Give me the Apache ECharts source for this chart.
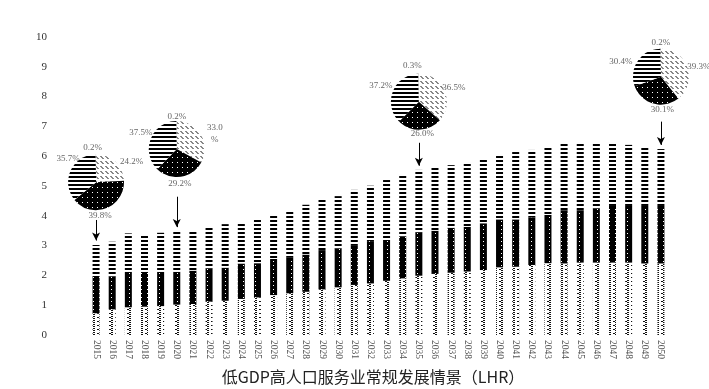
<!DOCTYPE html>
<html><head><meta charset="utf-8">
<script src="https://cdn.jsdelivr.net/npm/echarts@6/dist/echarts.min.js"></script>
<style>html,body{margin:0;padding:0;background:#fff}#c{width:709px;height:389px}</style>
</head><body><div id="c"></div>
<script>
// ---- data ----
const years = ['2015','2016','2017','2018','2019','2020','2021','2022','2023','2024','2025','2026','2027','2028','2029','2030','2031','2032','2033','2034','2035','2036','2037','2038','2039','2040','2041','2042','2043','2044','2045','2046','2047','2048','2049','2050'];
const yTicks = [0,1,2,3,4,5,6,7,8,9,10];
// bottom segment (zigzag hatch)
const segHatch = [0.73,0.86,0.93,0.95,0.97,1.02,1.04,1.12,1.15,1.21,1.26,1.34,1.40,1.45,1.53,1.60,1.68,1.73,1.82,1.90,1.99,2.05,2.09,2.13,2.18,2.27,2.29,2.35,2.41,2.40,2.43,2.43,2.43,2.43,2.40,2.40];
// middle segment (black with white dots)
const segDots = [1.25,1.10,1.19,1.17,1.15,1.10,1.12,1.12,1.11,1.19,1.15,1.21,1.19,1.25,1.32,1.30,1.31,1.42,1.37,1.40,1.46,1.45,1.51,1.50,1.57,1.61,1.59,1.59,1.62,1.79,1.76,1.82,1.90,1.90,1.93,1.93];
// top segment (horizontal stripes)
const segStripes = [1.04,1.17,1.29,1.27,1.31,1.35,1.36,1.36,1.46,1.38,1.47,1.50,1.60,1.67,1.68,1.76,1.88,1.86,2.01,2.04,2.09,2.13,2.10,2.16,2.18,2.19,2.26,2.27,2.27,2.22,2.28,2.18,2.08,2.05,1.99,1.91];
// pie shares (%): [hatch, dots, stripes, other]
const pie2015 = [24.2, 39.8, 35.7, 0.2];
const pie2020 = [33.0, 29.2, 37.5, 0.2];
const pie2035 = [36.5, 26.0, 37.2, 0.3];
const pie2050 = [39.3, 30.1, 30.4, 0.2];
const segNames = ['板块一','板块二','板块三','其他'];
const titleText = '低GDP高人口服务业常规发展情景（LHR）';

// ---- patterns ----
function pat(w, h, draw) {
  const c = document.createElement('canvas');
  c.width = w; c.height = h;
  const g = c.getContext('2d');
  g.fillStyle = '#fff'; g.fillRect(0, 0, w, h);
  draw(g);
  return { image: c, repeat: 'repeat' };
}
const pStripes = pat(4, 4, g => { g.fillStyle = '#000'; g.fillRect(0, 0, 4, 2); });
const pDotsBar = pat(6, 4, g => { g.fillStyle = '#000'; g.fillRect(0, 0, 6, 4); g.fillStyle = '#fff'; g.fillRect(3, 1, 1, 1); });
const pDotsPie = pat(5, 5, g => { g.fillStyle = '#000'; g.fillRect(0, 0, 5, 5); g.fillStyle = '#fff'; g.fillRect(2, 2, 1, 1); });
const pChevron = pat(6, 4, g => {
  g.fillStyle = '#111';
  g.fillRect(3, 0, 2, 1); g.fillRect(1, 1, 2, 1); g.fillRect(3, 2, 2, 1);
});
const pDiag = pat(5, 5, g => { g.strokeStyle = '#111'; g.lineWidth = 1; g.beginPath(); g.moveTo(0.5, 1); g.lineTo(3.5, 4); g.stroke(); });

const serif = '"Liberation Serif","DejaVu Serif",serif';
const chart = echarts.init(document.getElementById('c'), null, { renderer: 'canvas' });

const barSeries = [
  { name: segNames[0], type: 'bar', stack: 't', barWidth: 7, data: segHatch, itemStyle: { color: pChevron } },
  { name: segNames[1], type: 'bar', stack: 't', barWidth: 7, data: segDots, itemStyle: { color: pDotsBar } },
  { name: segNames[2], type: 'bar', stack: 't', barWidth: 7, data: segStripes, itemStyle: { color: pStripes },
    markLine: {
      silent: true, symbol: ['none', 'arrow'], symbolSize: [6, 8],
      label: { show: false }, lineStyle: { color: '#000', width: 1, type: 'solid' },
      data: [
        [{ coord: [0, 3.86] }, { coord: [0, 3.17] }],
        [{ coord: [5, 4.64] }, { coord: [5, 3.62] }],
        [{ coord: [20, 6.45] }, { coord: [20, 5.68] }],
        [{ coord: [35, 7.16] }, { coord: [35, 6.38] }]
      ]
    }
  }
];

const baseOption = {
  animation: false,
  backgroundColor: '#fff',
  graphic: [{
    type: 'text', x: 373, y: 377, silent: true,
    style: { text: titleText, textAlign: 'center', textVerticalAlign: 'middle',
      fontFamily: '"Noto Sans CJK SC",sans-serif', fontSize: 16, fill: '#222' }
  }],
  grid: { left: 88, right: 40, top: 37, bottom: 54 },
  xAxis: {
    type: 'category', data: years,
    axisLine: { show: false }, axisTick: { show: false },
    axisLabel: { rotate: -90, interval: 0, margin: 5, fontFamily: serif, fontSize: 9.5, color: '#555' }
  },
  yAxis: {
    type: 'value', min: 0, max: 10, interval: 1,
    splitLine: { show: false }, axisLine: { show: false }, axisTick: { show: false },
    axisLabel: { margin: 41, fontFamily: serif, fontSize: 11, color: '#333', formatter: v => yTicks.includes(v) ? String(v) : '' }
  },
  series: barSeries
};
chart.setOption(baseOption);

const pieDefs = [
  { year: '2015', at: 5.13, data: pie2015, offsets: [[35.5,-20],[4,34],[-28,-23],[-3.5,-34]] },
  { year: '2020', at: 6.24, data: pie2020, offsets: [[38,-15],[3,35],[-36,-16],[0,-32]], wrap: 0 },
  { year: '2035', at: 7.83, data: pie2035, offsets: [[35,-14.5],[3.5,31.5],[-38,-16.5],[-6.5,-36.5]] },
  { year: '2050', at: 8.67, data: pie2050, offsets: [[38,-10],[1.5,33.5],[-40,-15],[0,-34]] }
];
const pieColors = [pDiag, pDotsPie, pStripes, '#bfbfbf'];

const pieSeries = pieDefs.map(d => {
  const pt = chart.convertToPixel({ gridIndex: 0 }, [years.indexOf(d.year), d.at]);
  const cx = pt[0], cy = pt[1];
  return {
    type: 'pie', radius: 28, center: [cx, cy], startAngle: 90, clockwise: true,
    avoidLabelOverlap: false, silent: true,
    labelLine: { show: false },
    label: {
      show: true, position: 'outside', fontFamily: serif, fontSize: 9, color: '#666', lineHeight: 12,
      formatter: p => p.value.toFixed(1) + (d.wrap === p.dataIndex ? '\n%' : '%')
    },
    labelLayout: params => {
      const o = d.offsets[params.dataIndex];
      return { x: cx + o[0], y: cy + o[1], align: 'center', verticalAlign: 'middle' };
    },
    data: d.data.map((v, i) => ({ name: segNames[i], value: v, itemStyle: { color: pieColors[i] } }))
  };
});

chart.setOption({ series: barSeries.concat(pieSeries) });
</script>
</body></html>
